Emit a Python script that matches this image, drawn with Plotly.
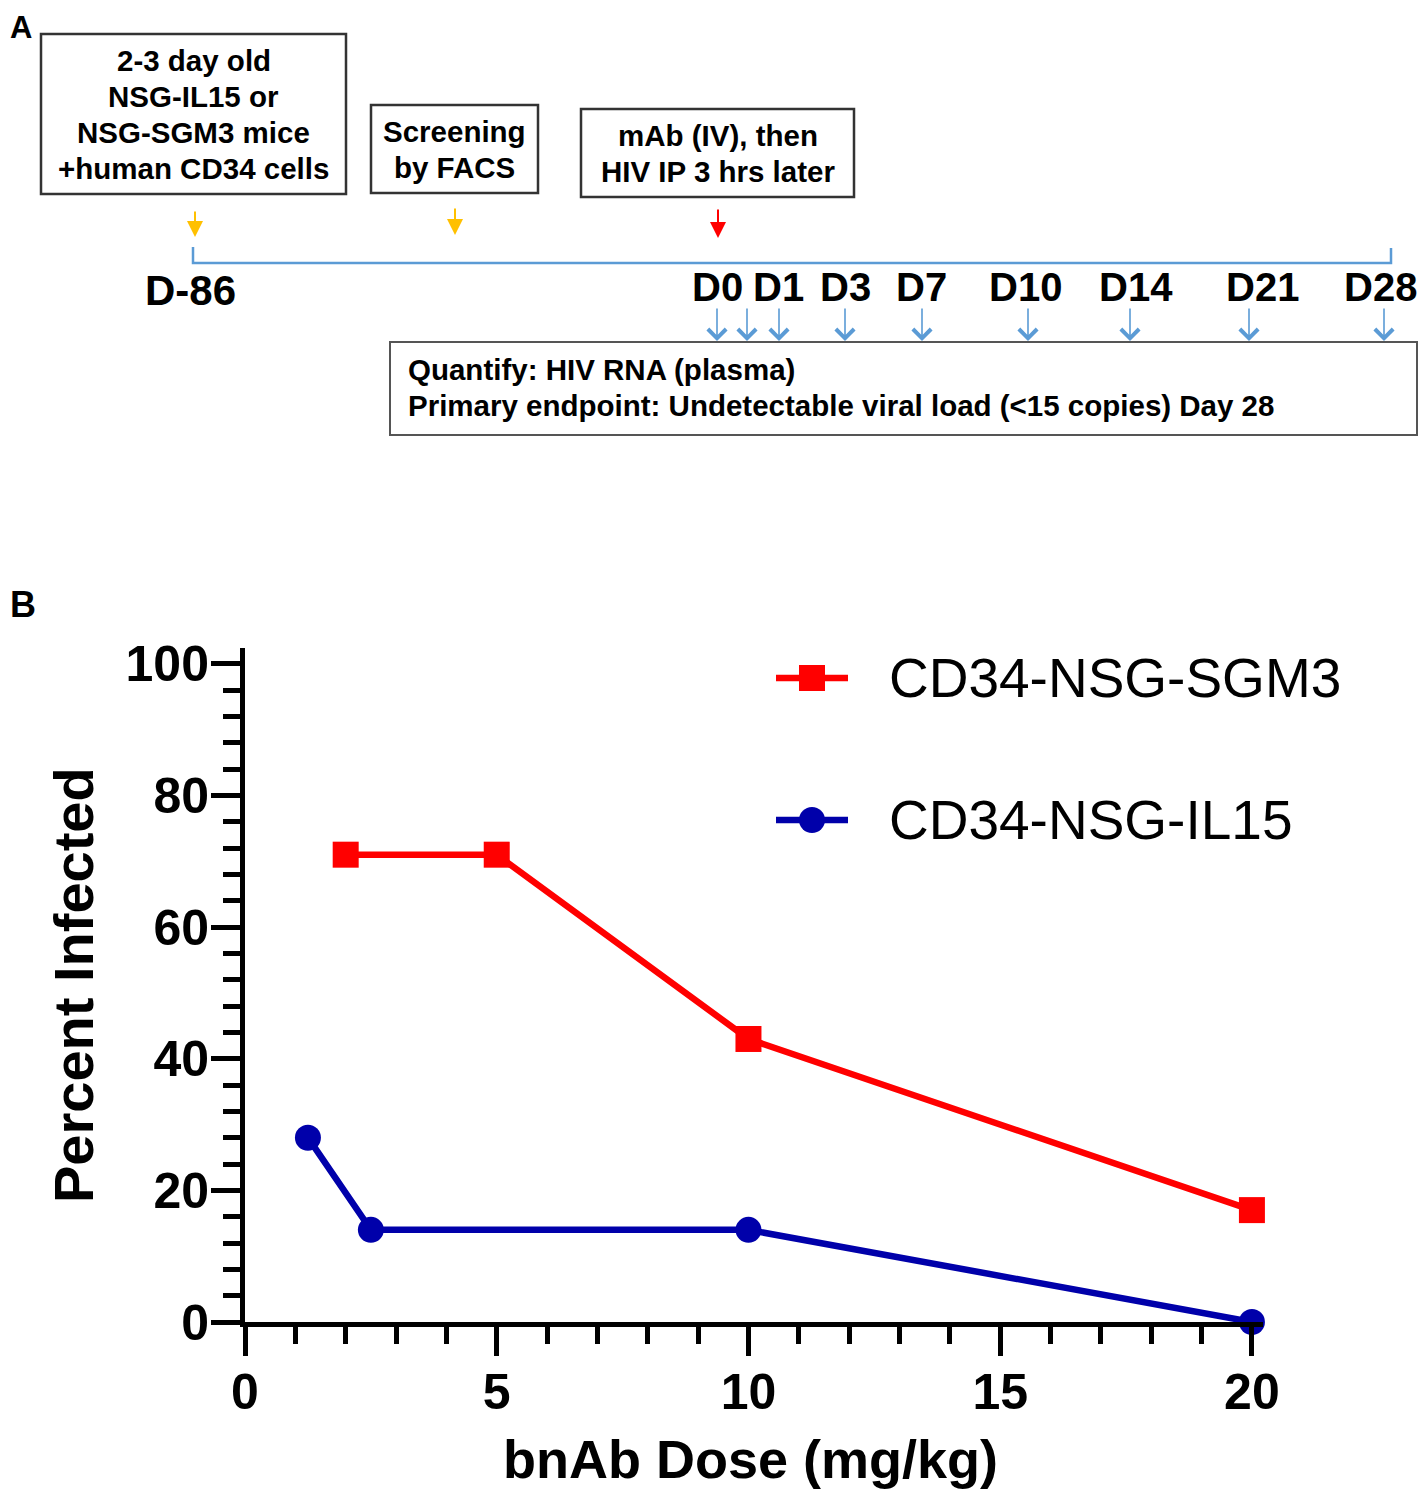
import plotly.graph_objects as go

# the page puts the figure 8px in from the top-left corner; keep the page 1427x1500
OFF = 8
W, H = 1427 - 2 * OFF, 1500 - 2 * OFF

# panel B data
dose_sgm3 = [2, 5, 10, 20]
pct_sgm3 = [71, 71, 43, 17]
dose_il15 = [1.25, 2.5, 10, 20]
pct_il15 = [28, 14, 14, 0]
series_names = ["CD34-NSG-SGM3", "CD34-NSG-IL15"]

# panel A text
box_lines = [
    ["2-3 day old", "NSG-IL15 or", "NSG-SGM3 mice", "+human CD34 cells"],
    ["Screening", "by FACS"],
    ["mAb (IV), then", "HIV IP 3 hrs later"],
]
day_labels = ["D-86", "D0", "D1", "D3", "D7", "D10", "D14", "D21", "D28"]
endpoint_lines = ["Quantify: HIV RNA (plasma)",
                  "Primary endpoint: Undetectable viral load (<15 copies) Day 28"]

# layout positions (pixels) for the timeline sketch
box_pos = [(41, 34, 346, 194), (371, 105, 538, 193), (581, 109, 854, 197)]
day_x = [190, 717, 779, 845, 922, 1025, 1136, 1262, 1380]
day_y = [290, 287, 287, 287, 287, 287, 287, 287, 287]
day_size = [42, 40, 40, 40, 40, 40, 40, 40, 40]
meas_arrow_x = [717, 747, 779, 845, 922, 1028, 1130, 1249, 1384]
LINE_GAP = 36

FONT = "Liberation Sans, Arial, sans-serif"
RED = "#FF0000"
BLUE = "#0000AA"
TL_BLUE = "#5B9BD5"


def X(px):
    return (px - OFF) / W


def Y(py):
    return 1 - (py - OFF) / H


def note(**kw):
    # annotation placed in paper (= whole figure) coordinates
    d = dict(xref="paper", yref="paper")
    d.update(kw)
    return d


fig = go.Figure()

fig.add_trace(go.Scatter(x=dose_sgm3, y=pct_sgm3, mode="lines+markers", name=series_names[0],
                         line=dict(color=RED, width=6.5),
                         marker=dict(symbol="square", size=26, color=RED),
                         cliponaxis=False))
fig.add_trace(go.Scatter(x=dose_il15, y=pct_il15, mode="lines+markers", name=series_names[1],
                         line=dict(color=BLUE, width=6.5),
                         marker=dict(symbol="circle", size=26, color=BLUE),
                         cliponaxis=False))

shapes = []
annotations = []

# panel labels
annotations.append(note(x=X(8), y=Y(8), text="<b>A</b>", showarrow=False, xanchor="left",
                        yanchor="top", font=dict(size=31, family=FONT, color="black")))
annotations.append(note(x=X(8), y=Y(604), text="<b>B</b>", showarrow=False, xanchor="left",
                        yanchor="middle", font=dict(size=36, family=FONT, color="black")))

# boxes at top
for (x0, y0, x1, y1), lines in zip(box_pos, box_lines):
    shapes.append(dict(type="rect", xref="paper", yref="paper", x0=X(x0), x1=X(x1),
                       y0=Y(y0), y1=Y(y1), line=dict(color="#333333", width=2.5)))
    first = (y0 + y1) / 2 + 0.5 - LINE_GAP * (len(lines) - 1) / 2
    for i, txt in enumerate(lines):
        annotations.append(note(x=X((x0 + x1) / 2), y=Y(first + i * LINE_GAP),
                                text="<b>" + txt + "</b>", showarrow=False,
                                xanchor="center", yanchor="middle",
                                font=dict(size=29.5, family=FONT, color="black")))

# timeline
shapes.append(dict(type="path", xref="paper", yref="paper",
                   path=f"M {X(193)},{Y(247)} L {X(193)},{Y(263)} L {X(1391)},{Y(263)} L {X(1391)},{Y(248)}",
                   line=dict(color=TL_BLUE, width=2.5)))

# event arrows
for ax_px, tail, tip, col in [(195, 210, 237, "#FFC000"), (455, 207, 235, "#FFC000"),
                              (718, 208, 238, RED)]:
    annotations.append(note(x=X(ax_px), y=Y(tip), ax=0, ay=tail - tip, text="",
                            showarrow=True, arrowhead=2, arrowsize=1.6, arrowwidth=2,
                            arrowcolor=col, standoff=0))

for lbl, lx, ly, fs in zip(day_labels, day_x, day_y, day_size):
    annotations.append(note(x=X(lx), y=Y(ly), text="<b>" + lbl + "</b>", showarrow=False,
                            xanchor="center", yanchor="middle",
                            font=dict(size=fs, family=FONT, color="black")))

for mx in meas_arrow_x:
    annotations.append(note(x=X(mx), y=Y(341), ax=0, ay=-34, text="", showarrow=True,
                            arrowhead=4, arrowsize=2.2, arrowwidth=1.6,
                            arrowcolor=TL_BLUE, standoff=0))

shapes.append(dict(type="rect", xref="paper", yref="paper", x0=X(390), x1=X(1417),
                   y0=Y(342), y1=Y(435), line=dict(color="#555555", width=2)))
for i, txt in enumerate(endpoint_lines):
    annotations.append(note(x=X(406), y=Y(370 + i * LINE_GAP), text="<b>" + txt + "</b>",
                            showarrow=False, xanchor="left", yanchor="middle",
                            font=dict(size=29.5, family=FONT, color="black")))

# legend for panel B
for (ly, col, sym), name in zip([(678, RED, "rect"), (820, BLUE, "circle")], series_names):
    shapes.append(dict(type="line", xref="paper", yref="paper", x0=X(776), x1=X(848),
                       y0=Y(ly), y1=Y(ly), line=dict(color=col, width=6.5)))
    shapes.append(dict(type=sym, xref="paper", yref="paper", x0=X(799), x1=X(825),
                       y0=Y(ly - 13), y1=Y(ly + 13), fillcolor=col, line=dict(width=0)))
    annotations.append(note(x=X(887), y=Y(ly), text=name, showarrow=False, xanchor="left",
                            yanchor="middle", font=dict(size=55, family=FONT, color="black")))

# axis titles
annotations.append(note(x=X(74), y=Y(985), text="<b>Percent Infected</b>", showarrow=False,
                        textangle=-90, xanchor="center", yanchor="middle",
                        font=dict(size=56, family=FONT, color="black")))
annotations.append(note(x=X(750), y=Y(1491), text="<b>bnAb Dose (mg/kg)</b>", showarrow=False,
                        xanchor="center", yanchor="bottom",
                        font=dict(size=54, family=FONT, color="black")))

fig.update_layout(
    width=W, height=H,
    margin=dict(l=0, r=0, t=0, b=0, autoexpand=False),
    paper_bgcolor="white", plot_bgcolor="white",
    showlegend=False,
    shapes=shapes, annotations=annotations,
    xaxis=dict(domain=[X(245), X(1263)], range=[0, 20.22], tickvals=[0, 5, 10, 15, 20],
               showgrid=False, zeroline=False, showline=True, linecolor="black", linewidth=5,
               ticks="outside", ticklen=29, tickwidth=5, tickcolor="black",
               ticklabelstandoff=-7,
               minor=dict(dtick=1, tick0=0, ticks="outside", ticklen=17, tickwidth=5,
                          tickcolor="black", showgrid=False),
               tickfont=dict(size=50, family=FONT, color="black", weight="bold")),
    yaxis=dict(domain=[Y(1322), Y(648)], range=[0, 102.4], tickvals=[0, 20, 40, 60, 80, 100],
               showgrid=False, zeroline=False, showline=True, linecolor="black", linewidth=5,
               ticks="outside", ticklen=29, tickwidth=5, tickcolor="black",
               ticklabelstandoff=-8,
               minor=dict(dtick=4, tick0=0, ticks="outside", ticklen=17, tickwidth=5,
                          tickcolor="black", showgrid=False),
               tickfont=dict(size=50, family=FONT, color="black", weight="bold")),
)

fig.write_html("out.html")
